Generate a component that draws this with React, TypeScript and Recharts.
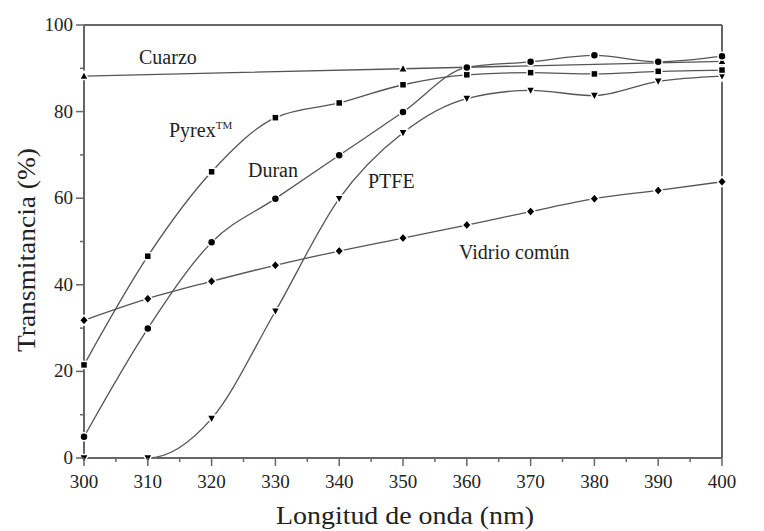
import { LineChart, Line, XAxis, YAxis, ReferenceLine } from "recharts";

// wavelength (nm)
const wavelengths = [300, 310, 320, 330, 340, 350, 360, 370, 380, 390, 400];
// transmittance (%)
const pyrex = [21.5, 46.6, 66.1, 78.6, 82.0, 86.2, 88.5, 89.0, 88.7, 89.3, 89.6];
const duran = [4.9, 29.9, 49.8, 59.9, 69.9, 79.9, 90.2, 91.5, 93.0, 91.5, 92.8];
const ptfe = [0, 0, 9.1, 33.9, 59.9, 75.1, 83.0, 84.9, 83.7, 87.0, 88.2];
const vidrio = [31.8, 36.8, 40.8, 44.5, 47.8, 50.8, 53.8, 56.9, 59.9, 61.8, 63.8];
// cuarzo was only marked at a few wavelengths
const cuarzoX = [300, 350, 400];
const cuarzo = [88.2, 89.9, 91.6];

const xMajorTicks = [300, 310, 320, 330, 340, 350, 360, 370, 380, 390, 400];
const xMinorTicks = [305, 315, 325, 335, 345, 355, 365, 375, 385, 395];
const yMajorTicks = [0, 20, 40, 60, 80, 100];
const yMinorTicks = [10, 30, 50, 70, 90];

const data = wavelengths.map((wl, i) => {
  const c = cuarzoX.indexOf(wl);
  return {
    wl,
    pyrex: pyrex[i],
    duran: duran[i],
    ptfe: ptfe[i],
    vidrio: vidrio[i],
    cuarzo: c >= 0 ? cuarzo[c] : null,
  };
});

const FONT = '"Liberation Serif", "DejaVu Serif", serif';
const AXIS = "#666";
const LINE = "#555";
const TEXT = "#222";

const halo = { stroke: "#fff", strokeWidth: 1.5 };

const marker = (shape: string) => (props: any) => {
  const { cx, cy, index } = props;
  const key = `${shape}-${index}`;
  if (cx == null || cy == null) return <g key={key} />;
  if (shape === "square")
    return <rect key={key} x={cx - 3.5} y={cy - 3.5} width={7} height={7} fill="#000" {...halo} />;
  if (shape === "circle")
    return <circle key={key} cx={cx} cy={cy} r={4} fill="#000" {...halo} />;
  if (shape === "up")
    return <path key={key} d={`M${cx},${cy - 5} L${cx + 4.5},${cy + 3.5} L${cx - 4.5},${cy + 3.5} Z`} fill="#000" {...halo} />;
  if (shape === "down")
    return <path key={key} d={`M${cx},${cy + 5} L${cx + 4.5},${cy - 3.5} L${cx - 4.5},${cy - 3.5} Z`} fill="#000" {...halo} />;
  return <path key={key} d={`M${cx},${cy - 5} L${cx + 4.5},${cy} L${cx},${cy + 5} L${cx - 4.5},${cy} Z`} fill="#000" {...halo} />;
};

const txt = (size: number) => ({ fontFamily: FONT, fontSize: size, fill: TEXT });

const XTick = ({ x, y, payload }: any) => {
  const major = payload.value % 10 === 0;
  return (
    <g>
      <line x1={x} x2={x} y1={y} y2={y + (major ? 8 : 4)} stroke={AXIS} strokeWidth={1.5} />
      {major && (
        <text x={x} y={y + 30} textAnchor="middle" style={txt(19)}>
          {payload.value}
        </text>
      )}
    </g>
  );
};

const YTickLeft = ({ x, y, payload }: any) => {
  const major = payload.value % 20 === 0;
  return (
    <g>
      <line x1={x - (major ? 8 : 4)} x2={x} y1={y} y2={y} stroke={AXIS} strokeWidth={1.5} />
      {major && (
        <text x={x - 11} y={y + 6} textAnchor="end" style={txt(19)}>
          {payload.value}
        </text>
      )}
    </g>
  );
};

const YTickRight = ({ x, y, payload }: any) => {
  const major = payload.value % 20 === 0;
  return (
    <g>
      <line x1={x} x2={x + (major ? 8 : 4)} y1={y} y2={y} stroke={AXIS} strokeWidth={1.5} />
      {major && (
        <text x={x + 10} y={y + 6} textAnchor="start" style={txt(19)}>
          {payload.value}
        </text>
      )}
    </g>
  );
};

export default function App() {
  const yTicks = [...yMajorTicks, ...yMinorTicks].sort((a, b) => a - b);
  const xTicks = [...xMajorTicks, ...xMinorTicks].sort((a, b) => a - b);
  return (
    <div style={{ position: "absolute", left: 0, top: 0, background: "#fff", fontFamily: FONT }}>
      <LineChart width={764} height={531} data={data} margin={{ top: 25, right: 0, bottom: 0, left: 0 }}>
        <XAxis
          dataKey="wl"
          type="number"
          domain={[300, 400]}
          ticks={xTicks}
          interval={0}
          height={73}
          tickSize={0}
          tickMargin={0}
          tickLine={false}
          tick={<XTick />}
          axisLine={{ stroke: AXIS, strokeWidth: 2 }}
        />
        <YAxis
          yAxisId="left"
          domain={[0, 100]}
          ticks={yTicks}
          interval={0}
          width={84}
          tickSize={0}
          tickMargin={0}
          tickLine={false}
          tick={<YTickLeft />}
          axisLine={{ stroke: AXIS, strokeWidth: 2 }}
        />
        <YAxis
          yAxisId="right"
          orientation="right"
          domain={[0, 100]}
          ticks={yTicks}
          interval={0}
          width={42}
          tickSize={0}
          tickMargin={0}
          tickLine={false}
          tick={<YTickRight />}
          axisLine={{ stroke: AXIS, strokeWidth: 2 }}
        />
        <ReferenceLine yAxisId="left" y={100} stroke={AXIS} strokeWidth={2} />

        <Line yAxisId="left" dataKey="cuarzo" type="monotone" connectNulls stroke={LINE} strokeWidth={1.3} dot={marker("up")} activeDot={false} isAnimationActive={false} />
        <Line yAxisId="left" dataKey="vidrio" type="monotone" stroke={LINE} strokeWidth={1.3} dot={marker("diamond")} activeDot={false} isAnimationActive={false} />
        <Line yAxisId="left" dataKey="ptfe" type="monotone" stroke={LINE} strokeWidth={1.3} dot={marker("down")} activeDot={false} isAnimationActive={false} />
        <Line yAxisId="left" dataKey="pyrex" type="monotone" stroke={LINE} strokeWidth={1.3} dot={marker("square")} activeDot={false} isAnimationActive={false} />
        <Line yAxisId="left" dataKey="duran" type="monotone" stroke={LINE} strokeWidth={1.3} dot={marker("circle")} activeDot={false} isAnimationActive={false} />

        <text x={139} y={64} style={txt(20)}>Cuarzo</text>
        <text x={169} y={137} style={txt(20)}>
          Pyrex<tspan dy={-8} style={{ fontSize: 11 }}>TM</tspan>
        </text>
        <text x={248} y={177} style={txt(20)}>Duran</text>
        <text x={368} y={188} style={txt(20)}>PTFE</text>
        <text x={459} y={259} style={txt(20)}>Vidrio común</text>

        <text x={405} y={524} textAnchor="middle" style={txt(25)} textLength={258} lengthAdjust="spacingAndGlyphs">
          Longitud de onda (nm)
        </text>
        <text
          x={35}
          y={250}
          transform="rotate(-90 35 250)"
          textAnchor="middle"
          style={txt(25)}
          textLength={204}
          lengthAdjust="spacingAndGlyphs"
        >
          Transmitancia (%)
        </text>
      </LineChart>
    </div>
  );
}
